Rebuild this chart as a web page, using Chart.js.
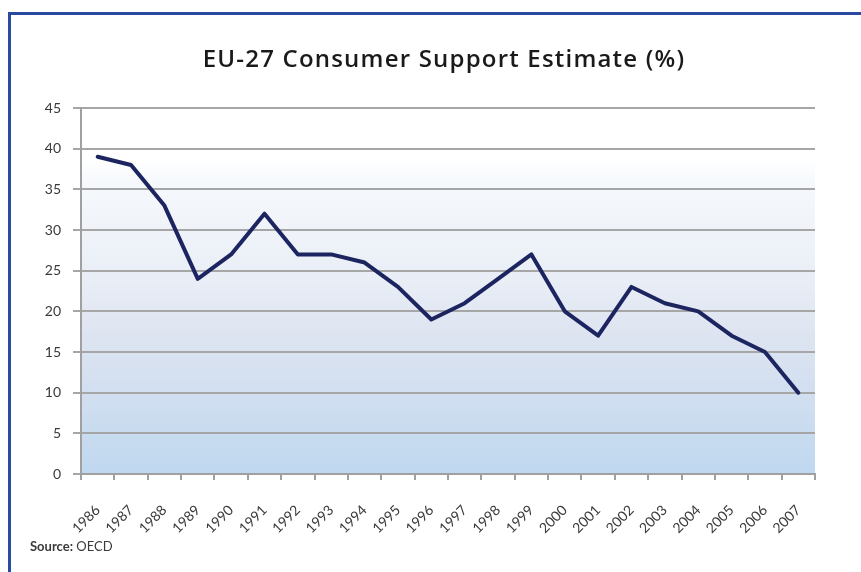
<!DOCTYPE html>
<html>
<head>
<meta charset="utf-8">
<script src="https://cdn.jsdelivr.net/npm/chart.js@4"></script>
<style>
    html, body { margin: 0; padding: 0; background: #fff; }
    #wrap { position: relative; width: 861px; height: 572px; overflow: hidden; }
    #frame { position: absolute; left: 8px; top: 12px; width: 900px; height: 600px;
             border-top: 3px solid #2a4aa2; border-left: 3px solid #2a4aa2; }
    #title { position: absolute; left: 0; width: 888px; top: 41px; text-align: center;
             font: 600 24px "Open Sans", sans-serif; letter-spacing: 1.2px; color: #1a1a1a; }
    #source { position: absolute; left: 30px; top: 538px; font: 13px "Lato", sans-serif; color: #3a3a3a; }
    #source b { font-weight: 700; }
    canvas { position: absolute; left: 0; top: 0; }
</style>
</head>
<body>
<div id="wrap">
    <div id="frame"></div>
    <canvas id="chart" width="861" height="572"></canvas>
    <div id="title">EU-27 Consumer Support Estimate (%)</div>
    <div id="source"><b>Source:</b> OECD</div>
</div>
<script>
const years = ["1986", "1987", "1988", "1989", "1990", "1991", "1992", "1993", "1994", "1995", "1996",
    "1997", "1998", "1999", "2000", "2001", "2002", "2003", "2004", "2005", "2006", "2007"];
const cse = [39, 38, 33, 24, 27, 32, 27, 27, 26, 23, 19, 21, 24, 27, 20, 17, 23, 21, 20, 17, 15, 10];
const yTicks = [0, 45, 5]; // min, max, step

// plot area background gradient
const bgPlugin = {
    id: "bg",
    beforeDraw(chart) {
        const { ctx, chartArea: a } = chart;
        const g = ctx.createLinearGradient(0, a.top, 0, a.bottom);
        g.addColorStop(0, "#ffffff");
        g.addColorStop(0.14, "#ffffff");
        g.addColorStop(0.2, "#f6f9fc");
        g.addColorStop(0.45, "#eaeff7");
        g.addColorStop(0.6, "#dfe5f1");
        g.addColorStop(0.8, "#d0def0");
        g.addColorStop(1, "#bfd8ef");
        ctx.save();
        ctx.fillStyle = g;
        ctx.fillRect(a.left, a.top, a.right - a.left, a.bottom - a.top);
        ctx.restore();
    }
};

new Chart(document.getElementById("chart"), {
    type: "line",
    data: {
        labels: years,
        datasets: [{
            label: "CSE",
            data: cse,
            borderColor: "#1c2560",
            borderWidth: 4,
            pointRadius: 0,
            tension: 0,
            borderJoinStyle: "round",
            borderCapStyle: "round"
        }]
    },
    options: {
        responsive: false,
        animation: false,
        layout: { padding: { top: 108, left: 0, right: 46, bottom: 30 } },
        plugins: { legend: { display: false }, tooltip: { enabled: false } },
        scales: {
            x: {
                offset: true,
                afterFit: s => { s.height = 68; },
                border: { color: "#a0a0a0", width: 2 },
                grid: { offset: true, drawOnChartArea: false, drawTicks: true, tickLength: 6, color: "#a0a0a0", lineWidth: 2 },
                ticks: { minRotation: 45, maxRotation: 45, padding: 22, color: "#3a3a3a", font: { family: "Lato", size: 14 } }
            },
            y: {
                min: yTicks[0],
                max: yTicks[1],
                afterFit: s => { s.width = 81; },
                border: { color: "#a0a0a0", width: 2 },
                grid: { color: "#a6a6a6", lineWidth: 2, tickLength: 8 },
                ticks: { stepSize: yTicks[2], padding: 12, color: "#3a3a3a", font: { family: "Lato", size: 14 } }
            }
        }
    },
    plugins: [bgPlugin]
});
</script>
</body>
</html>
